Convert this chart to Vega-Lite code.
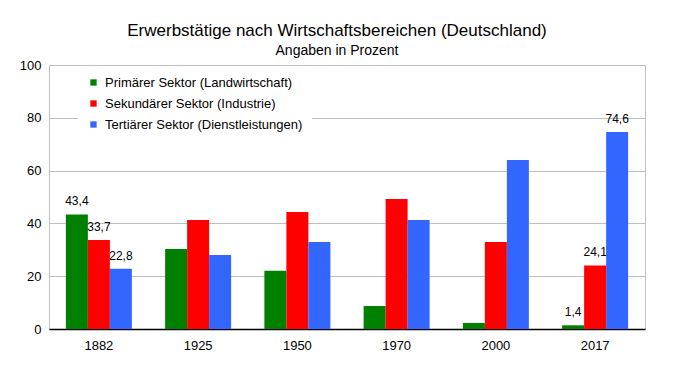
{
  "$schema": "https://vega.github.io/schema/vega-lite/v6.json",
  "width": 596,
  "height": 264,
  "autosize": {"type": "none"},
  "padding": {"left": 49, "top": 65, "right": 32, "bottom": 45},
  "background": "white",
  "title": {
    "text": "Erwerbstätige nach Wirtschaftsbereichen (Deutschland)",
    "subtitle": "Angaben in Prozent",
    "anchor": "middle",
    "dx": -10,
    "font": "Liberation Sans",
    "fontSize": 17,
    "fontWeight": "normal",
    "color": "black",
    "subtitleFont": "Liberation Sans",
    "subtitleFontSize": 14,
    "subtitleColor": "black",
    "subtitlePadding": 4,
    "offset": 0
  },
  "data": {
    "values": [
      {"jahr": "1882", "sektor": "Primärer Sektor (Landwirtschaft)", "wert": 43.4, "label": "43,4"},
      {"jahr": "1882", "sektor": "Sekundärer Sektor (Industrie)", "wert": 33.7, "label": "33,7"},
      {"jahr": "1882", "sektor": "Tertiärer Sektor (Dienstleistungen)", "wert": 22.8, "label": "22,8"},
      {"jahr": "1925", "sektor": "Primärer Sektor (Landwirtschaft)", "wert": 30.3, "label": ""},
      {"jahr": "1925", "sektor": "Sekundärer Sektor (Industrie)", "wert": 41.3, "label": ""},
      {"jahr": "1925", "sektor": "Tertiärer Sektor (Dienstleistungen)", "wert": 28.0, "label": ""},
      {"jahr": "1950", "sektor": "Primärer Sektor (Landwirtschaft)", "wert": 22.1, "label": ""},
      {"jahr": "1950", "sektor": "Sekundärer Sektor (Industrie)", "wert": 44.3, "label": ""},
      {"jahr": "1950", "sektor": "Tertiärer Sektor (Dienstleistungen)", "wert": 33.0, "label": ""},
      {"jahr": "1970", "sektor": "Primärer Sektor (Landwirtschaft)", "wert": 8.7, "label": ""},
      {"jahr": "1970", "sektor": "Sekundärer Sektor (Industrie)", "wert": 49.2, "label": ""},
      {"jahr": "1970", "sektor": "Tertiärer Sektor (Dienstleistungen)", "wert": 41.3, "label": ""},
      {"jahr": "2000", "sektor": "Primärer Sektor (Landwirtschaft)", "wert": 2.3, "label": ""},
      {"jahr": "2000", "sektor": "Sekundärer Sektor (Industrie)", "wert": 33.0, "label": ""},
      {"jahr": "2000", "sektor": "Tertiärer Sektor (Dienstleistungen)", "wert": 64.0, "label": ""},
      {"jahr": "2017", "sektor": "Primärer Sektor (Landwirtschaft)", "wert": 1.4, "label": "1,4"},
      {"jahr": "2017", "sektor": "Sekundärer Sektor (Industrie)", "wert": 24.1, "label": "24,1"},
      {"jahr": "2017", "sektor": "Tertiärer Sektor (Dienstleistungen)", "wert": 74.6, "label": "74,6"}
    ]
  },
  "encoding": {
    "x": {
      "field": "jahr",
      "type": "nominal",
      "sort": null,
      "scale": {"paddingInner": 0.335, "paddingOuter": 0.17},
      "axis": {
        "title": null,
        "labelAngle": 0,
        "labelFont": "Liberation Sans",
        "labelFontSize": 13,
        "labelColor": "black",
        "labelPadding": 10,
        "ticks": false,
        "domainColor": "black",
        "domainWidth": 1.5
      }
    },
    "xOffset": {
      "field": "sektor",
      "type": "nominal",
      "sort": null,
      "scale": {"paddingInner": 0, "paddingOuter": 0}
    },
    "y": {
      "field": "wert",
      "type": "quantitative",
      "scale": {"domain": [0, 100], "nice": false},
      "axis": {
        "title": null,
        "values": [0, 20, 40, 60, 80, 100],
        "labelFont": "Liberation Sans",
        "labelFontSize": 13,
        "labelColor": "black",
        "labelPadding": 8,
        "ticks": false,
        "domain": false,
        "gridColor": "#bfbfbf",
        "gridWidth": 1
      }
    }
  },
  "layer": [
    {
      "mark": {"type": "bar"},
      "encoding": {
        "color": {
          "field": "sektor",
          "type": "nominal",
          "sort": null,
          "scale": {"range": ["#008000", "#ff0000", "#3366ff"]},
          "legend": {
            "title": null,
            "orient": "none",
            "legendX": 29,
            "legendY": 2,
            "fillColor": "white",
            "padding": 9,
            "symbolType": "square",
            "symbolSize": 40,
            "symbolStrokeWidth": 0,
            "labelFont": "Liberation Sans",
            "labelFontSize": 13,
            "labelColor": "black",
            "rowPadding": 7,
            "labelOffset": 5,
            "labelLimit": 300
          }
        }
      }
    },
    {
      "transform": [{"filter": "datum.label != ''"}],
      "mark": {
        "type": "text",
        "baseline": "bottom",
        "dy": -6,
        "font": "Liberation Sans",
        "fontSize": 12,
        "color": "black"
      },
      "encoding": {"text": {"field": "label"}}
    }
  ],
  "config": {
    "view": {"stroke": "#bfbfbf", "strokeWidth": 1}
  }
}
